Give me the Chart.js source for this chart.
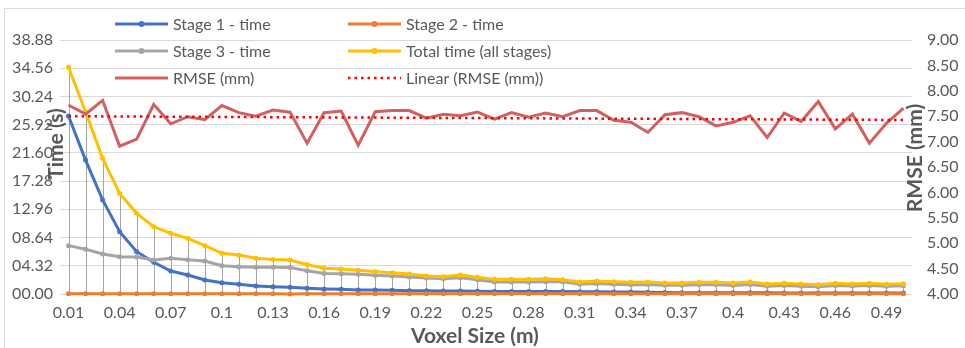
<!DOCTYPE html>
<html>
<head>
<meta charset="utf-8">
<script src="https://cdn.jsdelivr.net/npm/chart.js@4/dist/chart.umd.min.js"></script>
<style>
  html, body { margin: 0; padding: 0; background: #ffffff; }
  #wrap { width: 965px; height: 348px; }
</style>
</head>
<body>
<div id="wrap"><canvas id="c" width="965" height="348"></canvas></div>
<script>
// Voxel sizes (m) on the category axis
const voxelSizes = [0.01, 0.02, 0.03, 0.04, 0.05, 0.06, 0.07, 0.08, 0.09, 0.1,
  0.11, 0.12, 0.13, 0.14, 0.15, 0.16, 0.17, 0.18, 0.19, 0.2,
  0.21, 0.22, 0.23, 0.24, 0.25, 0.26, 0.27, 0.28, 0.29, 0.3,
  0.31, 0.32, 0.33, 0.34, 0.35, 0.36, 0.37, 0.38, 0.39, 0.4,
  0.41, 0.42, 0.43, 0.44, 0.45, 0.46, 0.47, 0.48, 0.49, 0.5];

// Processing times (s)
const stage1Time = [27.25, 20.5, 14.4, 9.54, 6.48, 4.85, 3.52, 2.9, 2.14, 1.73,
  1.48, 1.22, 1.12, 1.02, 0.87, 0.77, 0.72, 0.62, 0.6, 0.58,
  0.51, 0.5, 0.46, 0.45, 0.42, 0.4, 0.4, 0.38, 0.38, 0.37,
  0.36, 0.35, 0.32, 0.3, 0.26, 0.22, 0.21, 0.2, 0.2, 0.19,
  0.18, 0.18, 0.17, 0.17, 0.16, 0.16, 0.15, 0.15, 0.15, 0.14];
const stage2Time = [0.04, 0.04, 0.04, 0.04, 0.04, 0.04, 0.04, 0.04, 0.04, 0.04,
  0.04, 0.04, 0.04, 0.0, 0.04, 0.04, 0.04, 0.04, 0.04, 0.04,
  0.04, 0.04, 0.04, 0.04, 0.04, 0.04, 0.04, 0.04, 0.04, 0.04,
  0.04, 0.04, 0.04, 0.04, 0.04, 0.04, 0.04, 0.04, 0.04, 0.04,
  0.04, 0.04, 0.04, 0.04, 0.04, 0.04, 0.04, 0.04, 0.04, 0.04];
const stage3Time = [7.4, 6.84, 6.12, 5.71, 5.66, 5.2, 5.46, 5.25, 5.05, 4.33,
  4.18, 4.08, 4.08, 4.05, 3.55, 3.15, 3.11, 3.01, 2.86, 2.76,
  2.6, 2.45, 2.35, 2.5, 2.19, 1.84, 1.84, 1.84, 1.89, 1.89,
  1.48, 1.6, 1.5, 1.42, 1.47, 1.33, 1.33, 1.43, 1.42, 1.32,
  1.45, 1.2, 1.3, 1.2, 1.12, 1.3, 1.22, 1.3, 1.18, 1.26];
const totalTime = [34.7, 27.9, 20.77, 15.4, 12.35, 10.3, 9.29, 8.52, 7.4, 6.22,
  5.97, 5.46, 5.3, 5.2, 4.5, 3.93, 3.83, 3.62, 3.42, 3.27,
  3.06, 2.76, 2.65, 2.91, 2.55, 2.24, 2.24, 2.24, 2.35, 2.19,
  1.84, 1.99, 1.89, 1.79, 1.84, 1.68, 1.68, 1.79, 1.79, 1.68,
  1.84, 1.53, 1.63, 1.53, 1.43, 1.63, 1.53, 1.63, 1.48, 1.58];

// Registration error (mm)
const rmseMm = [7.72, 7.54, 7.81, 6.91, 7.05, 7.73, 7.35, 7.49, 7.43, 7.71,
  7.57, 7.5, 7.62, 7.58, 6.97, 7.57, 7.6, 6.93, 7.59, 7.61,
  7.61, 7.46, 7.54, 7.51, 7.58, 7.44, 7.57, 7.48, 7.56, 7.49,
  7.61, 7.61, 7.42, 7.38, 7.18, 7.53, 7.57, 7.49, 7.31, 7.38,
  7.51, 7.08, 7.56, 7.4, 7.79, 7.25, 7.54, 6.97, 7.36, 7.66];

// Axis ticks
const timeTicks = [0, 4.32, 8.64, 12.96, 17.28, 21.6, 25.92, 30.24, 34.56, 38.88];
const rmseTicks = [4, 4.5, 5, 5.5, 6, 6.5, 7, 7.5, 8, 8.5, 9];

// Least-squares linear trend of RMSE over the category index
function linearTrend(values) {
  const n = values.length;
  let sx = 0, sy = 0, sxx = 0, sxy = 0;
  values.forEach((v, i) => { const x = i + 1; sx += x; sy += v; sxx += x * x; sxy += x * v; });
  const b = (n * sxy - sx * sy) / (n * sxx - sx * sx);
  const a = (sy - b * sx) / n;
  return values.map((_, i) => a + b * (i + 1));
}
const rmseTrend = linearTrend(rmseMm);

const GRID = '#D9D9D9';
const TEXT = '#595959';
const FONT = 'Lato, "Open Sans", sans-serif';

function timeSeries(label, data, color, order) {
  return {
    label, data, yAxisID: 'y', order, clip: false,
    borderColor: color, backgroundColor: color,
    borderWidth: 3, pointRadius: 2.5, pointBorderWidth: 0,
    pointBackgroundColor: color, tension: 0, fill: false
  };
}

// Vertical drop lines from the highest time value to the axis
const dropLines = {
  id: 'dropLines',
  beforeDatasetsDraw(chart) {
    const { ctx, scales: { x, y } } = chart;
    ctx.save();
    ctx.strokeStyle = '#A6A6A6';
    ctx.lineWidth = 1;
    const y0 = Math.round(y.getPixelForValue(0)) + 0.5;
    voxelSizes.forEach((_, i) => {
      const top = Math.max(stage1Time[i], stage2Time[i], stage3Time[i], totalTime[i]);
      const px = Math.round(x.getPixelForValue(i)) + 0.5;
      ctx.beginPath();
      ctx.moveTo(px, y.getPixelForValue(top));
      ctx.lineTo(px, y0);
      ctx.stroke();
    });
    ctx.restore();
  }
};

// Frame, axis titles and the two-column legend
const decorations = {
  id: 'decorations',
  beforeDraw(chart) {
    const { ctx } = chart;
    ctx.save();
    ctx.fillStyle = '#ffffff';
    ctx.fillRect(0, 0, chart.width, chart.height);
    ctx.strokeStyle = GRID;
    ctx.lineWidth = 1;
    ctx.strokeRect(4.5, 8.5, 1200, 800);
    ctx.restore();
  },
  afterDraw(chart) {
    const { ctx } = chart;
    ctx.save();
    ctx.fillStyle = TEXT;
    ctx.font = 'bold 21px ' + FONT;
    ctx.textAlign = 'center';
    ctx.textBaseline = 'middle';
    ctx.fillText('Voxel Size (m)', 475, 336);

    ctx.save();
    ctx.translate(56, 144);
    ctx.rotate(-Math.PI / 2);
    ctx.fillText('Time (s)', 0, 0);
    ctx.restore();

    ctx.save();
    ctx.translate(915, 158);
    ctx.rotate(-Math.PI / 2);
    ctx.fillText('RMSE (mm)', 0, 0);
    ctx.restore();

    // legend: [dataset index, column x, row y]
    const ds = chart.data.datasets;
    const slots = [[0, 115, 24], [1, 348, 24], [2, 115, 51], [3, 348, 51], [4, 115, 78], [5, 348, 78]];
    ctx.font = '16px ' + FONT;
    ctx.textAlign = 'left';
    slots.forEach(([k, lx, ly]) => {
      const d = ds[k];
      ctx.save();
      ctx.strokeStyle = d.borderColor;
      ctx.lineWidth = d.borderDash ? d.borderWidth : 3;
      ctx.setLineDash(d.borderDash || []);
      ctx.beginPath();
      ctx.moveTo(lx, ly);
      ctx.lineTo(lx + 53, ly);
      ctx.stroke();
      if (d.pointRadius > 0) {
        ctx.fillStyle = d.borderColor;
        ctx.beginPath();
        ctx.arc(lx + 26.5, ly, 3, 0, Math.PI * 2);
        ctx.fill();
      }
      ctx.restore();
      ctx.fillStyle = TEXT;
      ctx.fillText(d.label, lx + 58, ly + 1);
    });
    ctx.restore();
  }
};

function build() {
  new Chart(document.getElementById('c'), {
    type: 'line',
    data: {
      labels: voxelSizes.map(String),
      datasets: [
        timeSeries('Stage 1 - time', stage1Time, '#4472C4', 6),
        timeSeries('Stage 2 - time', stage2Time, '#ED7D31', 5),
        timeSeries('Stage 3 - time', stage3Time, '#A5A5A5', 4),
        timeSeries('Total time (all stages)', totalTime, '#FFC000', 3),
        {
          label: 'RMSE (mm)', data: rmseMm, yAxisID: 'y2', order: 2,
          borderColor: '#D26060', backgroundColor: '#D26060',
          borderWidth: 3, pointRadius: 0, tension: 0, fill: false
        },
        {
          label: 'Linear (RMSE (mm))', data: rmseTrend, yAxisID: 'y2', order: 1,
          borderColor: '#FF0000', backgroundColor: '#FF0000',
          borderWidth: 2.5, borderDash: [2.5, 4], borderCapStyle: 'butt',
          pointRadius: 0, tension: 0, fill: false
        }
      ]
    },
    options: {
      responsive: false,
      animation: false,
      events: [],
      layout: { padding: { top: 40, left: 0, right: 0, bottom: 0 } },
      plugins: { legend: { display: false }, tooltip: { enabled: false } },
      scales: {
        x: {
          offset: true,
          grid: { display: false, drawTicks: false },
          border: { display: false },
          ticks: {
            autoSkip: false, maxRotation: 0, minRotation: 0, padding: 9,
            color: TEXT, font: { family: FONT, size: 16 },
            callback: (v, i) => (i % 3 === 0 ? String(voxelSizes[i]) : '')
          },
          afterFit: s => { s.height = 54; }
        },
        y: {
          position: 'left', min: 0, max: 38.88,
          afterBuildTicks: s => { s.ticks = timeTicks.map(v => ({ value: v })); },
          grid: { color: GRID, lineWidth: 1, drawTicks: false },
          border: { display: false },
          ticks: {
            padding: 7, color: TEXT, font: { family: FONT, size: 16 },
            callback: v => Number(v).toFixed(2).padStart(5, '0')
          },
          afterFit: s => { s.width = 60; }
        },
        y2: {
          position: 'right', min: 4, max: 9,
          afterBuildTicks: s => { s.ticks = rmseTicks.map(v => ({ value: v })); },
          grid: { display: false, drawTicks: false },
          border: { display: false },
          ticks: {
            padding: 15, color: TEXT, font: { family: FONT, size: 16 },
            callback: v => Number(v).toFixed(2)
          },
          afterFit: s => { s.width = 53; }
        }
      }
    },
    plugins: [decorations, dropLines]
  });
}

Promise.all([
  document.fonts.load('16px Lato'),
  document.fonts.load('bold 21px Lato')
]).then(build, build);
</script>
</body>
</html>
